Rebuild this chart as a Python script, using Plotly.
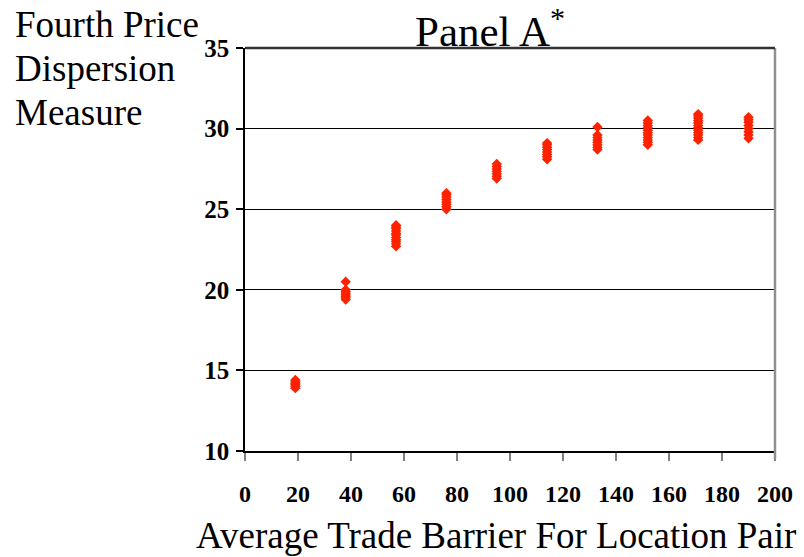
import plotly.graph_objects as go

# Average trade barrier for each location-pair group
barrier = [19, 38, 57, 76, 95, 114, 133, 152, 171, 190]

# Fourth price dispersion measure values observed at each barrier level
dispersion_groups = [
    [13.9, 14.0, 14.1, 14.15, 14.2, 14.3, 14.4],
    [19.4, 19.5, 19.6, 19.7, 19.8, 19.9, 20.0, 20.5],
    [22.7, 22.85, 23.0, 23.1, 23.25, 23.4, 23.5, 23.65, 23.8, 23.9, 24.0],
    [25.0, 25.15, 25.3, 25.45, 25.6, 25.75, 25.9, 26.0],
    [26.9, 27.05, 27.2, 27.35, 27.5, 27.65, 27.8],
    [28.1, 28.25, 28.4, 28.55, 28.7, 28.85, 29.0, 29.1],
    [28.7, 28.85, 29.0, 29.15, 29.3, 29.45, 29.6, 30.1],
    [29.0, 29.15, 29.3, 29.45, 29.6, 29.75, 29.9, 30.05, 30.2, 30.35, 30.5],
    [29.3, 29.45, 29.6, 29.75, 29.9, 30.05, 30.2, 30.35, 30.5, 30.65, 30.8, 30.9],
    [29.4, 29.6, 29.8, 30.0, 30.2, 30.4, 30.55, 30.7],
]

x_ticks = [0, 20, 40, 60, 80, 100, 120, 140, 160, 180, 200]
y_ticks = [10, 15, 20, 25, 30, 35]

y_title_lines = ["Fourth Price", "Dispersion", "Measure"]

xs, ys = [], []
for b, vals in zip(barrier, dispersion_groups):
    for v in vals:
        xs.append(b)
        ys.append(v)

fig = go.Figure()
fig.add_trace(go.Scatter(
    x=xs, y=ys, mode="markers",
    marker=dict(symbol="diamond", size=8, color="#FF2200", line=dict(width=0)),
    showlegend=False, hoverinfo="x+y",
))

font_family = "Liberation Serif, Times New Roman, serif"

W, H = 804, 557
L, R, T, B = 245, 29, 48, 106
PW, PH = W - L - R, H - T - B


def px_x(px):
    return (px - L) / PW


def px_y(py):
    return (H - B - py) / PH


annotations = [
    dict(text="Panel A<sup>*</sup>", xref="paper", yref="paper",
         x=px_x(490), y=px_y(28), yanchor="middle", xanchor="center",
         showarrow=False,
         font=dict(family=font_family, size=43, color="black")),
    dict(text="Average Trade Barrier For Location Pair", xref="paper", yref="paper",
         x=px_x(496), y=px_y(535), xanchor="center", yanchor="middle",
         showarrow=False,
         font=dict(family=font_family, size=37, color="black")),
]
for i, line in enumerate(y_title_lines):
    annotations.append(dict(
        text=line, xref="paper", yref="paper",
        x=px_x(13), y=px_y(2 + 44 * i), xanchor="left", yanchor="top", align="left",
        showarrow=False,
        font=dict(family=font_family, size=37, color="black"),
    ))

fig.update_layout(
    width=W, height=H,
    margin=dict(l=L, r=R, t=T, b=B, autoexpand=False),
    paper_bgcolor="white", plot_bgcolor="white",
    font=dict(family=font_family, color="black"),
    xaxis=dict(
        range=[0, 200], tickvals=x_ticks, ticktext=[str(v) for v in x_ticks],
        showgrid=False, zeroline=False, automargin=False,
        showline=True, linecolor="black", linewidth=1.5,
        ticks="outside", ticklen=8, tickcolor="#808080", tickwidth=1.5,
        tickfont=dict(family=font_family, size=24, color="black", weight="bold"),
        ticklabelstandoff=12,
    ),
    yaxis=dict(
        range=[10, 35], tickvals=y_ticks, ticktext=[str(v) for v in y_ticks],
        showgrid=True, gridcolor="black", gridwidth=1,
        zeroline=False, automargin=False,
        showline=True, linecolor="black", linewidth=1.5,
        ticks="outside", ticklen=7, tickcolor="black", tickwidth=1.5,
        tickfont=dict(family=font_family, size=25, color="black", weight="bold"),
        ticklabelstandoff=2,
    ),
    shapes=[
        dict(type="line", xref="paper", yref="paper", x0=1, x1=1, y0=-8 / PH, y1=1,
             line=dict(color="#909090", width=2.5)),
        dict(type="line", xref="paper", yref="paper", x0=0, x1=1, y0=1, y1=1,
             line=dict(color="#333333", width=2.5)),
    ],
    annotations=annotations,
)

fig.write_html("out.html", config={"displayModeBar": False},
               post_script="document.body.style.margin='0';")
